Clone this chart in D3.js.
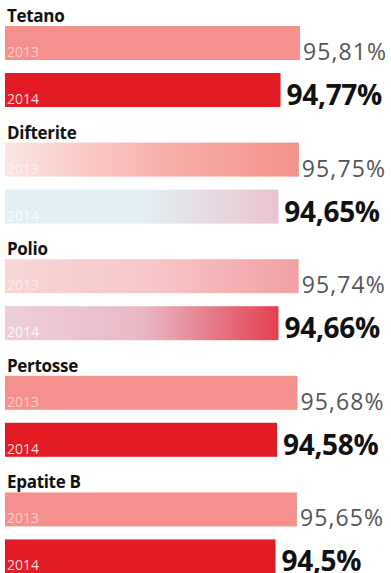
<!DOCTYPE html>
<html>
<head>
<meta charset="utf-8">
<script src="https://cdn.jsdelivr.net/npm/d3@7"></script>
<style>
    body { margin: 0; background: #fff; }
    svg { display: block; font-family: 'Open Sans', sans-serif; }
</style>
</head>
<body>
<div id="chart"></div>
<script>
// Coperture vaccinali, 2013 vs 2014
const categories = ['Tetano', 'Difterite', 'Polio', 'Pertosse', 'Epatite B'];
const years = ['2013', '2014'];
const values2013 = [95.81, 95.75, 95.74, 95.68, 95.65];
const values2014 = [94.77, 94.65, 94.66, 94.58, 94.5];

const width = 391, height = 573;

// Base colours per year
const yearColor = { '2013': '#f5918d', '2014': '#e21b24' };

// Some bars came out washed in print: gradient tones to match the scan
const printTone = {
    'Difterite-2013': ['#fbe6e4', '#f7b3ad', '#f39189'],
    'Difterite-2014': ['#e2f1f6', '#e4f0f4', '#e9c3cf'],
    'Polio-2013': ['#f8d6d6', '#f6c6c8', '#f2a0a3'],
    'Polio-2014': ['#eccfd9', '#e9b9c6', '#e3404f']
};

const rows = categories.flatMap((c, i) => [
    { cat: c, year: '2013', value: values2013[i] },
    { cat: c, year: '2014', value: values2014[i] }
]);

const svg = d3.select('#chart').append('svg')
    .attr('width', width)
    .attr('height', height);

// Gradients for washed bars
const defs = svg.append('defs');
Object.entries(printTone).forEach(([key, stops]) => {
    const g = defs.append('linearGradient')
        .attr('id', 'tone-' + key)
        .attr('x1', '0%').attr('x2', '100%');
    stops.forEach((s, j) => {
        g.append('stop')
            .attr('offset', (j / (stops.length - 1) * 100) + '%')
            .attr('stop-color', s);
    });
});

// Scales
const x = d3.scaleLinear().domain([80, 96]).range([5, 303.5]);
const yGroup = d3.scaleBand().domain(categories).range([0, 583]);
const yBar = d3.scaleBand().domain(years).range([26, 107]).paddingInner(0.277);

const fmt = v => String(v).replace('.', ',') + '%';

const groups = svg.selectAll('g.group')
    .data(categories)
    .join('g')
    .classed('group', true)
    .attr('transform', d => `translate(0,${yGroup(d)})`);

// Category labels
groups.append('text')
    .attr('x', 7)
    .attr('y', 22)
    .style('font-weight', 700)
    .style('font-size', '17px')
    .style('letter-spacing', '-0.3px')
    .attr('fill', '#111')
    .text(d => d);

const bars = groups.selectAll('g.bar')
    .data(c => rows.filter(r => r.cat === c))
    .join('g')
    .classed('bar', true);

bars.append('rect')
    .attr('x', x(80))
    .attr('y', d => yBar(d.year))
    .attr('width', d => x(d.value) - x(80))
    .attr('height', yBar.bandwidth())
    .attr('fill', d => printTone[`${d.cat}-${d.year}`]
        ? `url(#tone-${d.cat}-${d.year})`
        : yearColor[d.year]);

// Year inside bar
bars.append('text')
    .attr('x', 7)
    .attr('y', d => yBar(d.year) + yBar.bandwidth() - 3)
    .style('font-size', '14px')
    .attr('fill', '#fff')
    .attr('fill-opacity', d => d.year === '2013' ? 0.55 : 0.85)
    .text(d => d.year);

// Value labels
bars.append('text')
    .attr('x', d => x(d.value) + (d.year === '2013' ? 3 : 6))
    .attr('y', d => yBar(d.year) + yBar.bandwidth() - (d.year === '2013' ? 0 : 2))
    .style('font-size', d => d.year === '2013' ? '23px' : '28px')
    .style('font-weight', d => d.year === '2013' ? 400 : 700)
    .style('letter-spacing', d => d.year === '2013' ? '1.1px' : '-0.3px')
    .attr('fill', d => d.year === '2013' ? '#555' : '#111')
    .text(d => fmt(d.value));
</script>
</body>
</html>
